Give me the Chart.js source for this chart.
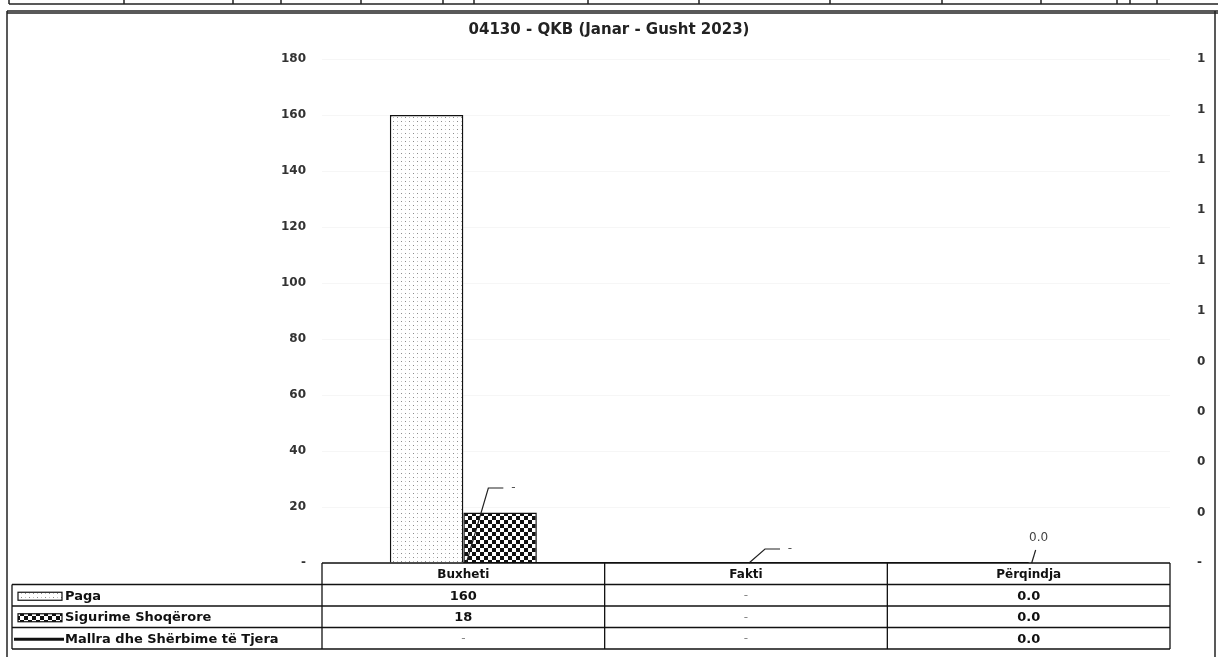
<!DOCTYPE html>
<html lang="sq">
<head>
<meta charset="UTF-8">
<title>04130 - QKB (Janar - Gusht 2023)</title>
<script src="https://cdn.jsdelivr.net/npm/chart.js@4"></script>
<style>
    html, body { margin: 0; padding: 0; background: #fff; }
    .wrap { position: relative; width: 1218px; height: 657px; }
</style>
</head>
<body>
<div class="wrap"><canvas id="grafiku"></canvas></div>
<script>
    // Të dhënat e grafikut
    const kategorite = ['Buxheti', 'Fakti', 'Përqindja'];
    const paga = [160, 0, 0];
    const sigurime = [18, 0, 0];
    const mallra = [0, 0, 0];
    const emratSerive = ['Paga', 'Sigurime Shoqërore', 'Mallra dhe Shërbime të Tjera'];
    const titulli = '04130 - QKB (Janar - Gusht 2023)';

    // Boshtet
    const boshtiMajtas = { min: 0, max: 180, hapi: 20 };
    const boshtiDjathtas = { min: 0, max: 1, hapi: 0.1 };

    // Formati i kolonave te tabeles (Përqindja me nje shifer pas presjes)
    const formatiKolones = ['numer', 'numer', 'perqindje'];

    // Pozicioni i etiketave te vijes (zhvendosje nga pika)
    const zhvendosjeEtiketash = [[50, -75], [44, -14], [10, -25]];

    const FONT = "'DejaVu Sans', Verdana, sans-serif";

    function formato(v, i) {
        if (formatiKolones[i] === 'perqindje') return v.toFixed(1);
        return v === 0 ? '-' : String(v);
    }

    // Mostrat (pattern) per shtyllat
    function mostraPika() {
        const c = document.createElement('canvas');
        c.width = 8; c.height = 8;
        const g = c.getContext('2d');
        g.fillStyle = '#fff';
        g.fillRect(0, 0, 8, 8);
        g.fillStyle = '#8a8a8a';
        g.fillRect(1, 1, 1, 1);
        g.fillRect(5, 5, 1, 1);
        g.fillStyle = '#c4c4c4';
        g.fillRect(5, 1, 1, 1);
        g.fillRect(1, 5, 1, 1);
        return g.createPattern(c, 'repeat');
    }

    function mostraShah() {
        const c = document.createElement('canvas');
        c.width = 8; c.height = 8;
        const g = c.getContext('2d');
        g.fillStyle = '#fff';
        g.fillRect(0, 0, 8, 8);
        g.fillStyle = '#111';
        g.fillRect(0, 0, 4, 4);
        g.fillRect(4, 4, 4, 4);
        return g.createPattern(c, 'repeat');
    }

    const pPika = mostraPika();
    const pShah = mostraShah();

    function vije(ctx, x1, y1, x2, y2) {
        ctx.beginPath();
        ctx.moveTo(x1, y1);
        ctx.lineTo(x2, y2);
        ctx.stroke();
    }

    // Korniza e jashtme dhe shiriti lart (nga fleta)
    const kornizaPlugin = {
        id: 'korniza',
        afterDraw(chart) {
            const ctx = chart.ctx;
            ctx.save();
            ctx.strokeStyle = '#222';
            ctx.lineWidth = 1.5;
            vije(ctx, 7, 11, 1218, 11);
            vije(ctx, 7, 13, 1218, 13);
            vije(ctx, 7, 11, 7, 657);
            vije(ctx, 1215, 11, 1215, 657);
            vije(ctx, 9, 4, 1218, 4);
            [9, 124, 233, 281, 361, 443, 474, 588, 699, 830, 942, 1041, 1117, 1130, 1157].forEach(x => {
                vije(ctx, x, 0, x, 4);
            });
            ctx.restore();
        }
    };

    // Etiketat e vijes me vija udhezuese
    const etiketaPlugin = {
        id: 'etiketaVije',
        afterDatasetsDraw(chart) {
            const ctx = chart.ctx;
            const meta = chart.getDatasetMeta(2);
            ctx.save();
            ctx.strokeStyle = '#222';
            ctx.lineWidth = 1.2;
            ctx.font = '12px ' + FONT;
            ctx.textAlign = 'center';
            ctx.textBaseline = 'middle';
            meta.data.forEach((p, i) => {
                const [dx, dy] = zhvendosjeEtiketash[i];
                const x0 = p.x + 3, y0 = p.y;
                ctx.beginPath();
                ctx.moveTo(x0, y0);
                if (dx > 20) {
                    ctx.lineTo(p.x + dx - 25, p.y + dy);
                    ctx.lineTo(p.x + dx - 10, p.y + dy);
                } else {
                    ctx.lineTo(p.x + dx - 3, p.y + dy + 12);
                }
                ctx.stroke();
                const t = formato(mallra[i], i);
                ctx.fillStyle = t === '-' ? '#555' : '#444';
                ctx.fillText(t, p.x + dx, p.y + dy);
            });
            ctx.restore();
        }
    };

    // Tabela e te dhenave poshte grafikut
    const tabelaPlugin = {
        id: 'tabela',
        afterDraw(chart) {
            const { ctx, chartArea: a, scales: { x } } = chart;
            const n = kategorite.length;
            const colW = a.width / n;
            const rowH = 21.5;
            const top = a.bottom;
            const majtas = 12;
            const seri = [
                { emri: emratSerive[0], vlera: paga, simbol: 'pika' },
                { emri: emratSerive[1], vlera: sigurime, simbol: 'shah' },
                { emri: emratSerive[2], vlera: mallra, simbol: 'vije' }
            ];
            ctx.save();
            ctx.strokeStyle = '#111';
            ctx.lineWidth = 1.3;
            vije(ctx, a.left, top, a.right, top);
            for (let r = 1; r <= seri.length + 1; r++) {
                vije(ctx, majtas, top + r * rowH, a.right, top + r * rowH);
            }
            vije(ctx, majtas, top + rowH, majtas, top + (seri.length + 1) * rowH);
            for (let i = 0; i <= n; i++) {
                const xx = a.left + i * colW;
                vije(ctx, xx, top, xx, top + (seri.length + 1) * rowH);
            }

            ctx.textBaseline = 'middle';
            ctx.textAlign = 'center';
            ctx.fillStyle = '#111';
            ctx.font = 'bold 12px ' + FONT;
            kategorite.forEach((k, i) => {
                ctx.fillText(k, x.getPixelForValue(i), top + rowH / 2 + 1);
            });

            seri.forEach((s, r) => {
                const cy = top + (r + 1) * rowH + rowH / 2 + 1;
                // simboli i legjendes
                const sx = 18, sw = 44, sh = 8;
                if (s.simbol === 'vije') {
                    ctx.lineWidth = 3;
                    ctx.strokeStyle = '#111';
                    vije(ctx, sx - 4, cy, sx + sw + 2, cy);
                } else {
                    ctx.fillStyle = s.simbol === 'pika' ? pPika : pShah;
                    ctx.fillRect(sx, cy - sh / 2, sw, sh);
                    ctx.lineWidth = 1.2;
                    ctx.strokeStyle = '#111';
                    ctx.strokeRect(sx, cy - sh / 2, sw, sh);
                }
                ctx.textAlign = 'left';
                ctx.fillStyle = '#111';
                ctx.font = 'bold 13px ' + FONT;
                ctx.fillText(s.emri, sx + sw + 3, cy);
                ctx.textAlign = 'center';
                s.vlera.forEach((v, i) => {
                    const t = formato(v, i);
                    if (t === '-') {
                        ctx.fillStyle = '#888';
                        ctx.font = '12px ' + FONT;
                    } else {
                        ctx.fillStyle = '#111';
                        ctx.font = 'bold 13px ' + FONT;
                    }
                    ctx.fillText(t, x.getPixelForValue(i), cy);
                });
            });
            ctx.restore();
        }
    };

    const ctx = document.getElementById('grafiku');

    new Chart(ctx, {
        data: {
            labels: kategorite,
            datasets: [
                {
                    type: 'bar',
                    label: emratSerive[0],
                    data: paga,
                    backgroundColor: pPika,
                    borderColor: '#111',
                    borderWidth: 1.5,
                    yAxisID: 'y',
                    order: 2
                },
                {
                    type: 'bar',
                    label: emratSerive[1],
                    data: sigurime,
                    backgroundColor: pShah,
                    borderColor: '#111',
                    borderWidth: 1.5,
                    yAxisID: 'y',
                    order: 2
                },
                {
                    type: 'line',
                    label: emratSerive[2],
                    data: mallra,
                    borderColor: '#111',
                    borderWidth: 2,
                    pointRadius: 0,
                    yAxisID: 'y1',
                    order: 1
                }
            ]
        },
        options: {
            responsive: true,
            maintainAspectRatio: false,
            animation: false,
            layout: { padding: { top: 0, left: 0, right: 0, bottom: 94 } },
            datasets: {
                bar: { categoryPercentage: 0.52, barPercentage: 1.0 }
            },
            plugins: {
                legend: { display: false },
                tooltip: { enabled: false },
                title: {
                    display: true,
                    text: titulli,
                    color: '#222',
                    font: { family: FONT, size: 15, weight: 'bold' },
                    padding: { top: 21, bottom: 20 }
                }
            },
            scales: {
                x: {
                    display: false,
                    offset: true
                },
                y: {
                    position: 'left',
                    min: boshtiMajtas.min,
                    max: boshtiMajtas.max,
                    afterFit: s => { s.width = 322; },
                    border: { display: false },
                    grid: { color: 'rgba(0,0,0,0.035)', drawTicks: false },
                    ticks: {
                        stepSize: boshtiMajtas.hapi,
                        padding: 16,
                        color: '#333',
                        font: { family: FONT, size: 12, weight: 'bold' },
                        callback: v => v === 0 ? '-' : v
                    }
                },
                y1: {
                    position: 'right',
                    min: boshtiDjathtas.min,
                    max: boshtiDjathtas.max,
                    afterFit: s => { s.width = 48; },
                    border: { display: false },
                    grid: { display: false, drawTicks: false },
                    ticks: {
                        stepSize: boshtiDjathtas.hapi,
                        padding: 27,
                        color: '#333',
                        font: { family: FONT, size: 12, weight: 'bold' },
                        callback: v => v === 0 ? '-' : Math.round(v)
                    }
                }
            }
        },
        plugins: [kornizaPlugin, etiketaPlugin, tabelaPlugin]
    });
</script>
</body>
</html>
